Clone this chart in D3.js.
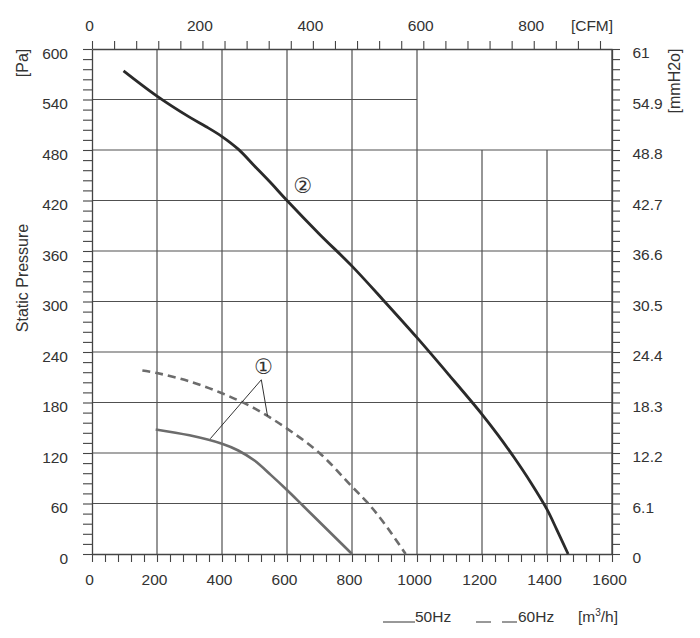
<!DOCTYPE html>
<html>
<head>
<meta charset="utf-8">
<script src="https://cdn.jsdelivr.net/npm/d3@7"></script>
<style>
  body { margin: 0; background: #fff; }
  svg text { font-family: "Liberation Sans", Arial, sans-serif; fill: #333; }
</style>
</head>
<body>
<div id="graphic"></div>
<script>
// fan curve ② (one speed, solid dark)
const qFan2 = [97, 200, 300, 350, 400, 450, 500, 550, 600, 700, 800, 900, 1000, 1100, 1200, 1250, 1300, 1350, 1400, 1430, 1465];
const pFan2 = [574, 544, 519, 508, 496, 481, 461, 441, 420, 380, 342, 300, 257, 212, 166, 141, 114, 85, 53, 29, 0];
// fan curve ① at 50Hz (solid gray)
const qFan1_50 = [196, 300, 400, 450, 500, 550, 600, 650, 700, 750, 800];
const pFan1_50 = [148, 141, 131, 123, 111, 94, 76, 57, 38, 19, 0];
// fan curve ① at 60Hz (dashed gray)
const qFan1_60 = [155, 200, 300, 400, 500, 600, 700, 800, 850, 900, 965];
const pFan1_60 = [218, 215, 205, 191, 173, 149, 120, 80, 60, 36, 0];

// axis ticks
const paTicks = [0, 60, 120, 180, 240, 300, 360, 420, 480, 540, 600];
const mmLabels = ["0", "6.1", "12.2", "18.3", "24.4", "30.5", "36.6", "42.7", "48.8", "54.9", "61"];
const flowTicks = [0, 200, 400, 600, 800, 1000, 1200, 1400, 1600];
const cfmTicks = [0, 200, 400, 600, 800];
const cfmPerM3h = 1 / 1.699;

const margin = { top: 49, right: 88, bottom: 84, left: 92 },
    width = 520,
    height = 505;

const svg = d3.select("#graphic")
    .append("svg")
    .attr("width", 700)
    .attr("height", 638)
    .append("g")
    .attr("transform", `translate(${margin.left},${margin.top})`);

const x = d3.scaleLinear().domain([0, 1600]).range([0, width]);
const y = d3.scaleLinear().domain([0, 600]).range([height, 0]);
const xCfm = d3.scaleLinear().domain([0, 1600 * cfmPerM3h]).range([0, width]);

const gridColor = "#505050";

// grid (the top right block is left blank in the original)
svg.append("g")
    .selectAll("line")
    .data(paTicks.filter(d => d > 0 && d < 600))
    .join("line")
    .attr("x1", 0)
    .attr("x2", d => d === 540 ? x(1000) : x(1600))
    .attr("y1", d => y(d))
    .attr("y2", d => y(d))
    .attr("stroke", gridColor)
    .attr("stroke-width", 1.2);

svg.append("g")
    .selectAll("line")
    .data(flowTicks.filter(d => d > 0 && d < 1600))
    .join("line")
    .attr("x1", d => x(d))
    .attr("x2", d => x(d))
    .attr("y1", y(0))
    .attr("y2", d => d > 1000 ? y(480) : y(600))
    .attr("stroke", gridColor)
    .attr("stroke-width", 1.2);

// axes
function styleAxis(g) {
    g.selectAll("path").attr("stroke", "#444").attr("stroke-width", 1.3);
    g.selectAll("line").attr("stroke", "#444").attr("stroke-width", 1.1);
    g.selectAll("text").style("font-size", "15.5px").attr("fill", "#333");
}

svg.append("g")
    .call(d3.axisLeft(y)
        .tickValues(d3.range(0, 601, 12))
        .tickSize(9).tickSizeOuter(0).tickPadding(15)
        .tickFormat(d => d % 60 === 0 ? d : ""))
    .call(styleAxis)
    .selectAll("text").attr("dy", "0.58em");

svg.append("g")
    .attr("transform", `translate(${width},0)`)
    .call(d3.axisRight(y)
        .tickValues(d3.range(0, 601, 12))
        .tickSize(8).tickSizeOuter(0).tickPadding(12.5)
        .tickFormat(d => d % 60 === 0 ? mmLabels[paTicks.indexOf(d)] : ""))
    .call(styleAxis)
    .selectAll("text").attr("dy", "0.55em");

svg.append("g")
    .attr("transform", `translate(0,${height})`)
    .call(d3.axisBottom(x)
        .tickValues(d3.range(0, 1601, 40))
        .tickSize(8).tickSizeOuter(0).tickPadding(11.5)
        .tickFormat(d => flowTicks.includes(d) ? d : ""))
    .call(styleAxis)
    .selectAll("text").attr("dx", -3);

svg.append("g")
    .call(d3.axisTop(xCfm)
        .tickValues(d3.range(0, 921, 40))
        .tickSize(8).tickSizeOuter(0).tickPadding(10.5)
        .tickFormat(d => cfmTicks.includes(d) ? d : ""))
    .call(styleAxis)
    .selectAll("text").attr("dx", -3);

// right border line across the full height
svg.append("line")
    .attr("x1", width).attr("x2", width)
    .attr("y1", 0).attr("y2", height)
    .attr("stroke", "#444").attr("stroke-width", 1.3);

// curves
const line = d3.line()
    .x(d => x(d[0]))
    .y(d => y(d[1]))
    .curve(d3.curveCatmullRom.alpha(0.5));

svg.append("path")
    .datum(d3.zip(qFan1_60, pFan1_60))
    .attr("d", line)
    .attr("fill", "none")
    .attr("stroke", "#6c6c6c")
    .attr("stroke-width", 2.6)
    .attr("stroke-dasharray", "8,5");

svg.append("path")
    .datum(d3.zip(qFan1_50, pFan1_50))
    .attr("d", line)
    .attr("fill", "none")
    .attr("stroke", "#6c6c6c")
    .attr("stroke-width", 2.6);

svg.append("path")
    .datum(d3.zip(qFan2, pFan2))
    .attr("d", line)
    .attr("fill", "none")
    .attr("stroke", "#2a2a2a")
    .attr("stroke-width", 2.8);

// annotations
const leaderApex = [521, 207];
const leaderEnds = [[364, 137], [540, 164]];
const label1 = [528, 222];
const label2 = [649, 437];

svg.append("g")
    .selectAll("line")
    .data(leaderEnds)
    .join("line")
    .attr("x1", x(leaderApex[0]))
    .attr("y1", y(leaderApex[1]))
    .attr("x2", d => x(d[0]))
    .attr("y2", d => y(d[1]))
    .attr("stroke", "#333")
    .attr("stroke-width", 1);

svg.append("g")
    .selectAll("text")
    .data([[label1, "①"], [label2, "②"]])
    .join("text")
    .attr("x", d => x(d[0][0]))
    .attr("y", d => y(d[0][1]))
    .attr("text-anchor", "middle")
    .attr("dominant-baseline", "central")
    .style("font-family", "'DejaVu Sans', 'Noto Sans CJK JP', sans-serif")
    .style("font-size", "21px")
    .text(d => d[1]);

// axis titles
const root = d3.select("#graphic svg");

root.append("text")
    .attr("transform", "translate(28,63)rotate(-90)")
    .attr("text-anchor", "middle")
    .style("font-size", "16px")
    .text("[Pa]");

root.append("text")
    .attr("transform", "translate(28,278)rotate(-90)")
    .attr("text-anchor", "middle")
    .style("font-size", "16px")
    .text("Static Pressure");

root.append("text")
    .attr("transform", "translate(680,81)rotate(-90)")
    .attr("text-anchor", "middle")
    .style("font-size", "16px")
    .text("[mmH2o]");

root.append("text")
    .attr("x", 592)
    .attr("y", 31)
    .attr("text-anchor", "middle")
    .style("font-size", "15.5px")
    .text("[CFM]");

// legend
const legend = root.append("g").attr("transform", "translate(0,622)");
legend.append("line")
    .attr("x1", 383).attr("x2", 415)
    .attr("stroke", "#333").attr("stroke-width", 1);
legend.append("text")
    .attr("x", 415)
    .style("font-size", "15.5px")
    .text("50Hz");
legend.append("line")
    .attr("x1", 476).attr("x2", 518)
    .attr("stroke", "#333").attr("stroke-width", 1)
    .attr("stroke-dasharray", "15,11");
legend.append("text")
    .attr("x", 518)
    .style("font-size", "15.5px")
    .text("60Hz");
const unit = legend.append("text")
    .attr("x", 578)
    .style("font-size", "15.5px");
unit.append("tspan").text("[m");
unit.append("tspan").attr("dy", -6).style("font-size", "10px").text("3");
unit.append("tspan").attr("dy", 6).text("/h]");
</script>
</body>
</html>
